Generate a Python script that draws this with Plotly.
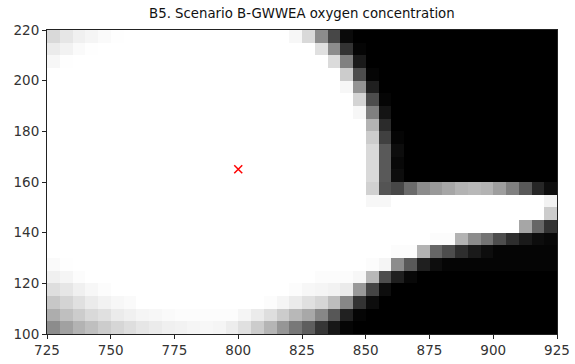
import plotly.graph_objects as go

# Grid cell centres (5-unit cells)
x_centers = [727.5 + 5 * i for i in range(40)]
y_centers = [102.5 + 5 * j for j in range(24)]

# Normalised oxygen concentration per row, bottom (y=100-105) to top (y=215-220)
row_00 = [.55, .63, .70, .75, .80, .84, .87, .90, .92, .94, .95, .96, .97, .96, .93, .88, .80, .71, .59, .47, .37, .21, .09, .02, 0, 0, 0, 0, 0, 0, 0, 0, 0, 0, 0, 0, 0, 0, 0, 0]
row_01 = [.68, .75, .80, .85, .88, .92, .94, .96, .97, .98, .99, .99, .99, .99, .99, .96, .92, .87, .80, .72, .66, .53, .34, .13, .02, 0, 0, 0, 0, 0, 0, 0, 0, 0, 0, 0, 0, 0, 0, 0]
row_02 = [.78, .83, .88, .92, .95, .97, .98, 1, 1, 1, 1, 1, 1, 1, 1, 1, 1, .99, .96, .92, .88, .84, .74, .53, .20, .05, 0, 0, 0, 0, 0, 0, 0, 0, 0, 0, 0, 0, 0, 0]
row_03 = [.87, .90, .94, .97, .99, 1, 1, 1, 1, 1, 1, 1, 1, 1, 1, 1, 1, 1, 1, .99, .97, .96, .95, .92, .60, .27, .05, 0, 0, 0, 0, 0, 0, 0, 0, 0, 0, 0, 0, 0]
row_04 = [.94, .96, .99, 1, 1, 1, 1, 1, 1, 1, 1, 1, 1, 1, 1, 1, 1, 1, 1, 1, 1, .99, .99, .99, .97, .72, .30, .12, .03, 0, 0, 0, 0, 0, 0, 0, 0, 0, 0, 0]
row_05 = [.98, .995, 1, 1, 1, 1, 1, 1, 1, 1, 1, 1, 1, 1, 1, 1, 1, 1, 1, 1, 1, 1, 1, 1, 1, .99, .96, .55, .35, .12, .05, .02, .02, .02, .02, .02, .02, .02, .02, .02]
row_06 = [1, 1, 1, 1, 1, 1, 1, 1, 1, 1, 1, 1, 1, 1, 1, 1, 1, 1, 1, 1, 1, 1, 1, 1, 1, 1, 1, .99, .99, .70, .40, .30, .18, .10, .05, .02, .02, .02, .02, .02]
row_07 = [1, 1, 1, 1, 1, 1, 1, 1, 1, 1, 1, 1, 1, 1, 1, 1, 1, 1, 1, 1, 1, 1, 1, 1, 1, 1, 1, 1, 1, 1, .99, .99, .70, .55, .45, .30, .18, .10, .05, .03]
row_08 = [1, 1, 1, 1, 1, 1, 1, 1, 1, 1, 1, 1, 1, 1, 1, 1, 1, 1, 1, 1, 1, 1, 1, 1, 1, 1, 1, 1, 1, 1, 1, 1, 1, 1, 1, 1, 1, .65, .40, .20]
row_09 = [1, 1, 1, 1, 1, 1, 1, 1, 1, 1, 1, 1, 1, 1, 1, 1, 1, 1, 1, 1, 1, 1, 1, 1, 1, 1, 1, 1, 1, 1, 1, 1, 1, 1, 1, 1, 1, 1, 1, .80]
row_10 = [1, 1, 1, 1, 1, 1, 1, 1, 1, 1, 1, 1, 1, 1, 1, 1, 1, 1, 1, 1, 1, 1, 1, 1, 1, .97, .97, 1, 1, 1, 1, 1, 1, 1, 1, 1, 1, 1, 1, .95]
row_11 = [1, 1, 1, 1, 1, 1, 1, 1, 1, 1, 1, 1, 1, 1, 1, 1, 1, 1, 1, 1, 1, 1, 1, 1, 1, .82, .33, .28, .42, .55, .60, .65, .70, .72, .70, .62, .50, .35, .15, .05]
row_12 = [1, 1, 1, 1, 1, 1, 1, 1, 1, 1, 1, 1, 1, 1, 1, 1, 1, 1, 1, 1, 1, 1, 1, 1, 1, .85, .35, .05, 0, 0, 0, 0, 0, 0, 0, 0, 0, 0, 0, 0]
row_13 = [1, 1, 1, 1, 1, 1, 1, 1, 1, 1, 1, 1, 1, 1, 1, 1, 1, 1, 1, 1, 1, 1, 1, 1, 1, .85, .35, .03, 0, 0, 0, 0, 0, 0, 0, 0, 0, 0, 0, 0]
row_14 = [1, 1, 1, 1, 1, 1, 1, 1, 1, 1, 1, 1, 1, 1, 1, 1, 1, 1, 1, 1, 1, 1, 1, 1, 1, .85, .35, .05, 0, 0, 0, 0, 0, 0, 0, 0, 0, 0, 0, 0]
row_15 = [1, 1, 1, 1, 1, 1, 1, 1, 1, 1, 1, 1, 1, 1, 1, 1, 1, 1, 1, 1, 1, 1, 1, 1, 1, .80, .25, .02, 0, 0, 0, 0, 0, 0, 0, 0, 0, 0, 0, 0]
row_16 = [1, 1, 1, 1, 1, 1, 1, 1, 1, 1, 1, 1, 1, 1, 1, 1, 1, 1, 1, 1, 1, 1, 1, 1, 1, .70, .17, 0, 0, 0, 0, 0, 0, 0, 0, 0, 0, 0, 0, 0]
row_17 = [1, 1, 1, 1, 1, 1, 1, 1, 1, 1, 1, 1, 1, 1, 1, 1, 1, 1, 1, 1, 1, 1, 1, 1, .97, .50, .08, 0, 0, 0, 0, 0, 0, 0, 0, 0, 0, 0, 0, 0]
row_18 = [1, 1, 1, 1, 1, 1, 1, 1, 1, 1, 1, 1, 1, 1, 1, 1, 1, 1, 1, 1, 1, 1, 1, 1, .83, .30, .02, 0, 0, 0, 0, 0, 0, 0, 0, 0, 0, 0, 0, 0]
row_19 = [1, 1, 1, 1, 1, 1, 1, 1, 1, 1, 1, 1, 1, 1, 1, 1, 1, 1, 1, 1, 1, 1, 1, .97, .58, .12, 0, 0, 0, 0, 0, 0, 0, 0, 0, 0, 0, 0, 0, 0]
row_20 = [1, 1, 1, 1, 1, 1, 1, 1, 1, 1, 1, 1, 1, 1, 1, 1, 1, 1, 1, 1, 1, 1, 1, .80, .30, .02, 0, 0, 0, 0, 0, 0, 0, 0, 0, 0, 0, 0, 0, 0]
row_21 = [.97, .995, 1, 1, 1, 1, 1, 1, 1, 1, 1, 1, 1, 1, 1, 1, 1, 1, 1, 1, 1, 1, .86, .50, .10, 0, 0, 0, 0, 0, 0, 0, 0, 0, 0, 0, 0, 0, 0, 0]
row_22 = [.92, .95, .98, .995, 1, 1, 1, 1, 1, 1, 1, 1, 1, 1, 1, 1, 1, 1, 1, 1, 1, .88, .55, .20, .02, 0, 0, 0, 0, 0, 0, 0, 0, 0, 0, 0, 0, 0, 0, 0]
row_23 = [.85, .90, .94, .96, .98, .995, 1, 1, 1, 1, 1, 1, 1, 1, 1, 1, 1, 1, 1, .97, .85, .55, .28, .04, 0, 0, 0, 0, 0, 0, 0, 0, 0, 0, 0, 0, 0, 0, 0, 0]

oxygen = [row_00, row_01, row_02, row_03, row_04, row_05, row_06, row_07,
          row_08, row_09, row_10, row_11, row_12, row_13, row_14, row_15,
          row_16, row_17, row_18, row_19, row_20, row_21, row_22, row_23]

# Source location
source_x = [800]
source_y = [165]

x_ticks = [725, 750, 775, 800, 825, 850, 875, 900, 925]
y_ticks = [100, 120, 140, 160, 180, 200, 220]

fig = go.Figure()
fig.add_trace(go.Heatmap(
    x=x_centers, y=y_centers, z=oxygen,
    colorscale=[[0, "rgb(0,0,0)"], [1, "rgb(255,255,255)"]],
    zmin=0, zmax=1, showscale=False, zsmooth=False,
))
fig.add_trace(go.Scatter(
    x=source_x, y=source_y, mode="markers",
    marker=dict(symbol="x-thin", size=8, line=dict(color="red", width=1.5), color="red"),
    showlegend=False,
))

axis_common = dict(
    showline=True, linecolor="#222", linewidth=1, mirror=True,
    ticks="outside", ticklen=4, tickwidth=1, tickcolor="#222",
    showgrid=False, zeroline=False, automargin=False,
    tickfont=dict(family="DejaVu Sans", size=13.5, color="#333"),
)
fig.update_xaxes(range=[725, 925], tickvals=x_ticks, **axis_common)
fig.update_yaxes(range=[100, 220], tickvals=y_ticks, **axis_common)

fig.update_layout(
    width=575, height=364,
    margin=dict(l=47, r=18, t=30, b=30, autoexpand=False),
    paper_bgcolor="white", plot_bgcolor="white",
    title=dict(text="B5. Scenario B-GWWEA oxygen concentration",
               x=0.525, xanchor="center", y=0.962, yanchor="middle",
               font=dict(family="DejaVu Sans", size=13.3, color="#111")),
    showlegend=False,
)

fig.write_html("out.html")
